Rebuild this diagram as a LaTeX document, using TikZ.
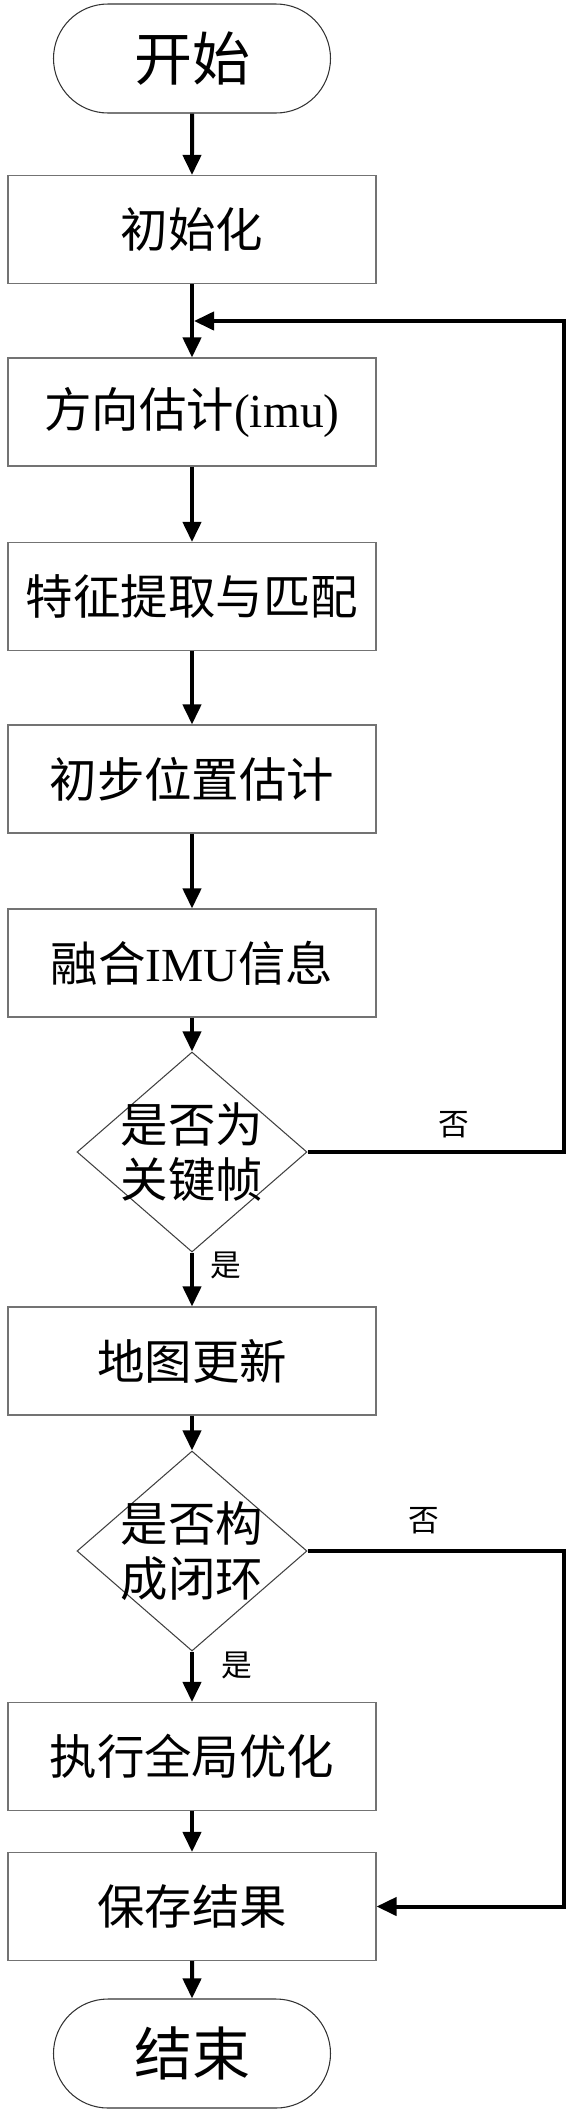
\documentclass[tikz,border=0pt]{standalone}
\usepackage{fontspec}
\setmainfont{Liberation Serif}
\newfontfamily\cjk{Noto Sans CJK SC}
\usetikzlibrary{arrows.meta,shapes.geometric,shapes.misc}
\tikzstyle{term}=[rounded rectangle,draw=black!80,line width=0.6pt,
  minimum width=5.54cm,minimum height=2.18cm,inner sep=0pt,
  font=\fontsize{33}{38}\selectfont\cjk]
\tikzstyle{proc}=[rectangle,draw=black!55,line width=0.6pt,
  minimum width=7.36cm,minimum height=2.16cm,inner sep=0pt,
  font=\fontsize{27}{31}\selectfont]
\tikzstyle{dec}=[diamond,draw=black!75,line width=0.6pt,
  minimum width=4.6cm,minimum height=4.0cm,inner sep=0pt]
\tikzstyle{dtext}=[align=center,inner sep=0pt,
  font=\fontsize{27}{31}\selectfont\cjk]
\tikzstyle{lbl}=[inner sep=0pt,font=\fontsize{17.5}{20}\selectfont\cjk]
\tikzstyle{arr}=[line width=2.27pt,-{Triangle[width=0.36cm,length=0.4cm]}]
\tikzstyle{none}=[]

\begin{document}
\begin{tikzpicture}
            \useasboundingbox (0,0) rectangle (11.34,-42.28);
            \node [style=term] (0) at (3.84, -1.17) {开始};
            \node [style=proc] (1) at (3.84, -4.59) {{\cjk 初始化}};
            \node [style=proc] (2) at (3.84, -8.24) {{\cjk 方向估计}(imu)};
            \node [style=proc] (3) at (3.84, -11.93) {{\cjk 特征提取与匹配}};
            \node [style=proc] (4) at (3.84, -15.58) {{\cjk 初步位置估计}};
            \node [style=proc] (5) at (3.84, -19.26) {{\cjk 融合}IMU{\cjk 信息}};
            \node [style=dec, label={[style=dtext]center:是否为\\关键帧}] (6) at (3.84, -23.04) {};
            \node [style=proc] (7) at (3.84, -27.22) {{\cjk 地图更新}};
            \node [style=dec, label={[style=dtext]center:是否构\\成闭环}] (8) at (3.84, -31.02) {};
            \node [style=proc] (9) at (3.84, -35.13) {{\cjk 执行全局优化}};
            \node [style=proc] (10) at (3.84, -38.13) {{\cjk 保存结果}};
            \node [style=term] (11) at (3.84, -41.07) {结束};
            \coordinate (12) at (11.28, -6.42);
            \coordinate (13) at (3.88, -6.42);
            \node [style=lbl] (14) at (9.08, -22.5) {否};
            \node [style=lbl] (15) at (4.52, -25.3) {是};
            \node [style=lbl] (16) at (8.48, -30.42) {否};
            \node [style=lbl] (17) at (4.74, -33.3) {是};
            \draw [style=arr] (0) to (1);
            \draw [style=arr] (1) to (2);
            \draw [style=arr] (2) to (3);
            \draw [style=arr] (3) to (4);
            \draw [style=arr] (4) to (5);
            \draw [style=arr] (5) to (6);
            \draw [style=arr] (6) to (7);
            \draw [style=arr] (7) to (8);
            \draw [style=arr] (8) to (9);
            \draw [style=arr] (9) to (10);
            \draw [style=arr] (10) to (11);
            \draw [style=arr, line join=miter] (6.east) -| (12) to (13);
            \draw [style=arr, line join=miter] (8.east) -| (12 |- 10.east) to (10.east);
    \end{tikzpicture}
\end{document}
